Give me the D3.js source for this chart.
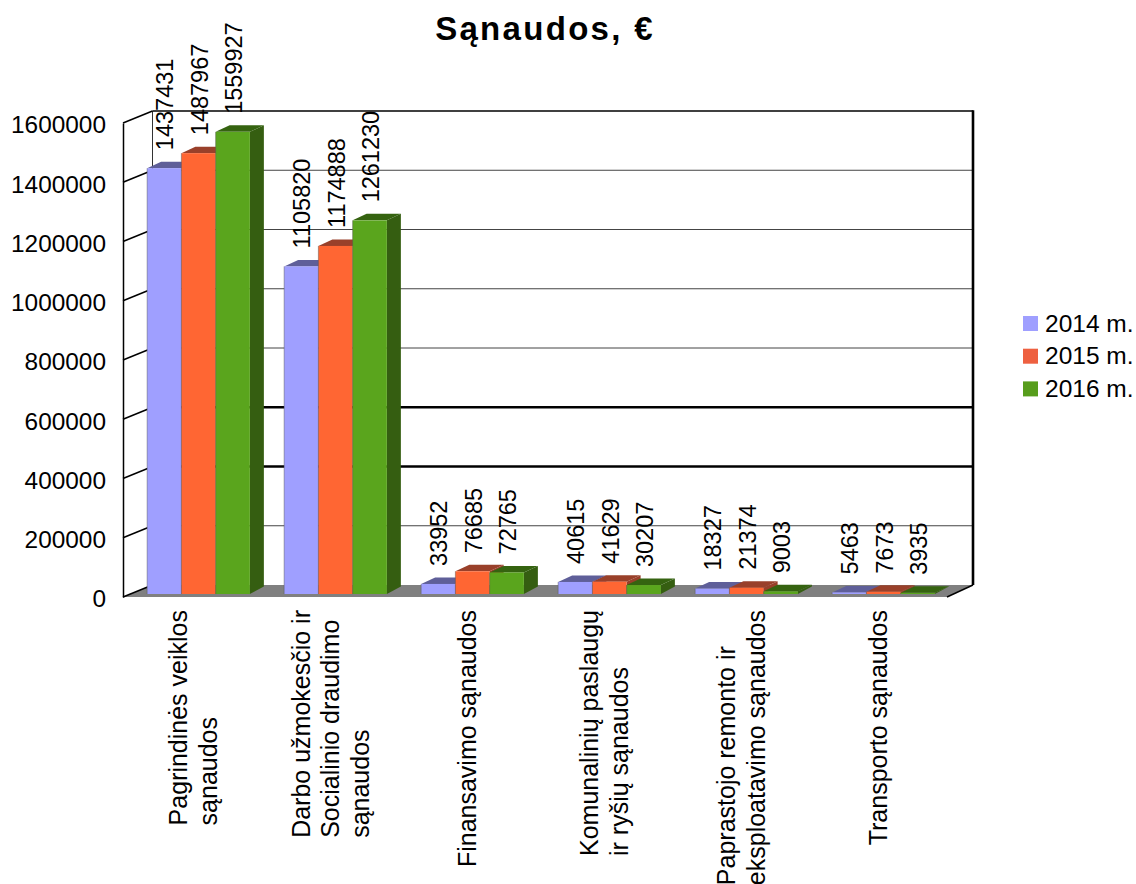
<!DOCTYPE html>
<html>
<head>
<meta charset="utf-8">
<style>
  html, body { margin: 0; padding: 0; background: #fff; }
  svg { display: block; }
  text { font-family: "Liberation Sans", Arial, sans-serif; fill: #000; white-space: pre; }
</style>
</head>
<body>
<div id="chart"></div>
<script src="https://cdnjs.cloudflare.com/ajax/libs/d3/7.8.5/d3.min.js"></script>
<script>
var categories = ["Pagrindinės veiklos", "Darbo užmokesčio", "Finansavimo", "Komunalinių", "Paprastojo remonto", "Transporto"];
var categoryLines = [
  ["Pagrindinės veiklos", "sąnaudos"],
  ["Darbo užmokesčio ir", "Socialinio draudimo", "sąnaudos"],
  ["Finansavimo sąnaudos"],
  ["Komunalinių paslaugų", "ir ryšių sąnaudos"],
  ["Paprastojo remonto ir", "eksploatavimo sąnaudos"],
  ["Transporto sąnaudos"]
];
var seriesNames = ["2014 m.", "2015 m.", "2016 m."];
var values2014 = [1437431, 1105820, 33952, 40615, 18327, 5463];
var values2015 = [1487967, 1174888, 76685, 41629, 21374, 7673];
var values2016 = [1559927, 1261230, 72765, 30207, 9003, 3935];
var seriesValues = [values2014, values2015, values2016];
var yTicks = [0, 200000, 400000, 600000, 800000, 1000000, 1200000, 1400000, 1600000];
var heavyGrid = [400000, 600000];

var frontColors = ["#9f9fff", "#ff6633", "#5aa51d"];
var topColors = ["#5f5f99", "#99402a", "#356310"];
var sideColors = ["#5f5f99", "#99402a", "#355e11"];
var legendColors = ["#9f9fff", "#ee6040", "#579d1c"];

var width = 1136, height = 884;
var axisX = 123, wallDx = 29.5, wallDy = -12;
var barLift = -3, barDx = 14, barDy = -6.5;

var svg = d3.select("#chart").append("svg")
    .attr("width", width)
    .attr("height", height);

var y = d3.scaleLinear().domain([0, 1600000]).range([597, 123]);
var x0 = d3.scaleBand().domain(categories).range([130, 952]).paddingInner(0.25).paddingOuter(0.125);
var x1 = d3.scaleBand().domain(seriesNames).range([0, x0.bandwidth()]);

function pts(list) { return list.map(function(p) { return p.join(","); }).join(" "); }

// floor
svg.append("polygon")
    .attr("fill", "#808080")
    .attr("points", pts([[axisX, y(0)], [axisX + wallDx, y(0) + wallDy], [973, y(0) + wallDy], [947, y(0)]]));
svg.append("line")
    .attr("x1", 947).attr("y1", y(0)).attr("x2", 973).attr("y2", y(0) + wallDy)
    .attr("stroke", "#000").attr("stroke-width", 1.4);

// back wall grid
svg.selectAll(".grid").data(yTicks.slice(1)).enter().append("line")
    .attr("class", "grid")
    .attr("x1", axisX + wallDx).attr("x2", 973)
    .attr("y1", function(d) { return y(d) + wallDy; })
    .attr("y2", function(d) { return y(d) + wallDy; })
    .attr("stroke", function(d) { return d === 1600000 || heavyGrid.indexOf(d) >= 0 ? "#000" : "#444"; })
    .attr("stroke-width", function(d) { return heavyGrid.indexOf(d) >= 0 ? 2.4 : (d === 1600000 ? 1.4 : 1); });

svg.append("line")
    .attr("x1", axisX + wallDx).attr("x2", axisX + wallDx)
    .attr("y1", y(1600000) + wallDy).attr("y2", y(0) + wallDy)
    .attr("stroke", "#333").attr("stroke-width", 1);
svg.append("line")
    .attr("x1", 973).attr("x2", 973)
    .attr("y1", y(1600000) + wallDy - 0.7).attr("y2", y(0) + wallDy)
    .attr("stroke", "#000").attr("stroke-width", 2.6);

// side wall ticks
svg.selectAll(".wallTick").data(yTicks).enter().append("line")
    .attr("class", "wallTick")
    .attr("x1", axisX).attr("x2", axisX + wallDx)
    .attr("y1", function(d) { return y(d); })
    .attr("y2", function(d) { return y(d) + wallDy; })
    .attr("stroke", "#000").attr("stroke-width", 1.5);

// left axis
var axis = svg.append("g")
    .attr("transform", "translate(" + axisX + ",0)")
    .call(d3.axisLeft(y).tickValues(yTicks).tickSize(0).tickPadding(17).tickFormat(d3.format("d")));
axis.select(".domain").attr("stroke", "#000").attr("stroke-width", 1.5);
axis.selectAll("text").attr("font-size", 24.4).attr("font-family", "Liberation Sans").attr("dy", "0.4em");

// bars
var groups = svg.selectAll(".cat").data(categories).enter().append("g")
    .attr("class", "cat")
    .attr("transform", function(d) { return "translate(" + x0(d) + ",0)"; });

seriesNames.forEach(function(name, s) {
  groups.each(function(cat, c) {
    var g = d3.select(this);
    var v = seriesValues[s][c];
    var left = x1(name), right = left + x1.bandwidth();
    var top = y(v) + barLift, base = y(0) + barLift;
    g.append("polygon").attr("fill", sideColors[s])
        .attr("points", pts([[right, top], [right + barDx, top + barDy], [right + barDx, base + barDy - 1], [right, base]]));
    g.append("polygon").attr("fill", topColors[s])
        .attr("points", pts([[left, top], [left + barDx, top + barDy], [right + barDx, top + barDy], [right, top]]));
    g.append("rect").attr("fill", frontColors[s])
        .attr("x", left).attr("y", top)
        .attr("width", x1.bandwidth()).attr("height", base - top);
    g.append("line").attr("x1", left).attr("x2", left).attr("y1", top).attr("y2", base)
        .attr("stroke", "#555").attr("stroke-opacity", 0.45);
  });
});

// value labels
seriesNames.forEach(function(name, s) {
  groups.each(function(cat, c) {
    var px = x1(name) + x1.bandwidth() / 2 + 9;
    var py = y(seriesValues[s][c]) + barLift - 18;
    d3.select(this).append("text")
        .attr("transform", "translate(" + px + "," + py + ") rotate(-90) scale(0.96,1)")
        .attr("font-size", 24.5)
        .text(seriesValues[s][c]);
  });
});

// category labels, longest line ends at the same height
var lineGap = 29.5;
categories.forEach(function(cat, c) {
  var lines = categoryLines[c];
  var cx = x0(cat) + x0.bandwidth() / 2 + 3.5;
  var g = svg.append("g");
  var texts = lines.map(function(line, i) {
    return g.append("text").attr("font-size", 25).text(line);
  });
  var longest = d3.max(texts, function(t) { return t.node().getComputedTextLength(); });
  texts.forEach(function(t, i) {
    var px = cx + (i - (lines.length - 1) / 2) * lineGap;
    t.attr("transform", "translate(" + px + "," + (610 + longest) + ") rotate(-90)");
  });
});

// title
svg.append("text")
    .attr("x", 545).attr("y", 40)
    .attr("text-anchor", "middle")
    .attr("font-size", 33).attr("font-weight", "bold")
    .attr("letter-spacing", 2.3)
    .text("Sąnaudos, €");

// legend
var legend = svg.selectAll(".legend").data(seriesNames).enter().append("g")
    .attr("class", "legend")
    .attr("transform", function(d, i) { return "translate(1023," + (316 + i * 32.7) + ")"; });
legend.append("rect").attr("width", 15).attr("height", 15)
    .attr("fill", function(d, i) { return legendColors[i]; });
legend.append("text").attr("x", 22).attr("y", 15.5).attr("font-size", 24.5).text(function(d) { return d; });
</script>
</body>
</html>
